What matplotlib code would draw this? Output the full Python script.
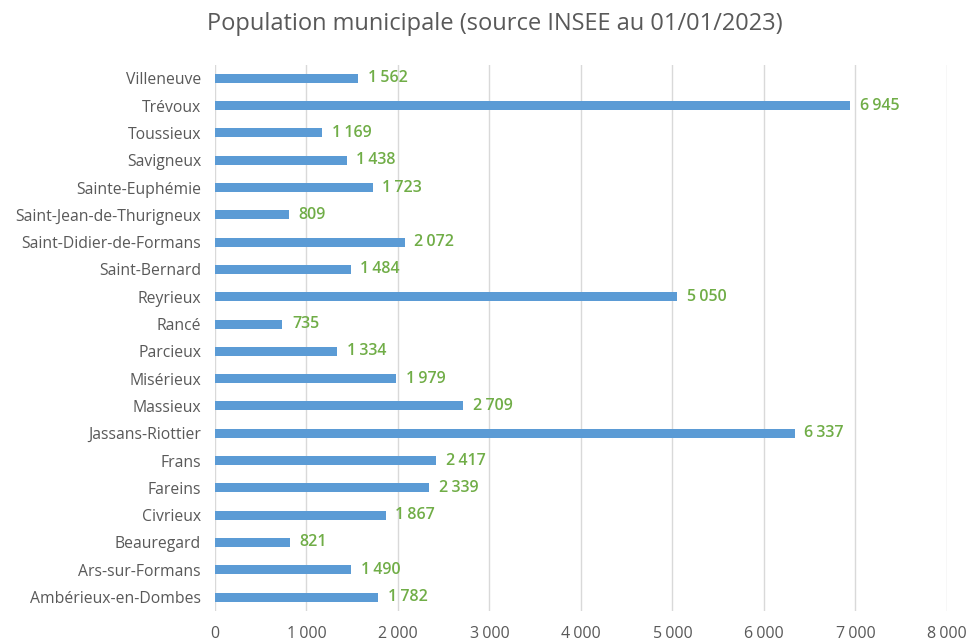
import matplotlib.pyplot as plt

communes = [
    "Villeneuve", "Trévoux", "Toussieux", "Savigneux", "Sainte-Euphémie",
    "Saint-Jean-de-Thurigneux", "Saint-Didier-de-Formans", "Saint-Bernard",
    "Reyrieux", "Rancé", "Parcieux", "Misérieux", "Massieux", "Jassans-Riottier",
    "Frans", "Fareins", "Civrieux", "Beauregard", "Ars-sur-Formans",
    "Ambérieux-en-Dombes",
]
population = [
    1562, 6945, 1169, 1438, 1723, 809, 2072, 1484, 5050, 735,
    1334, 1979, 2709, 6337, 2417, 2339, 1867, 821, 1490, 1782,
]
x_ticks = [0, 1000, 2000, 3000, 4000, 5000, 6000, 7000, 8000]


def fmt(v):
    return f"{v:,}".replace(",", "\u202f")


plt.rcParams["font.family"] = ["Open Sans", "DejaVu Sans"]

fig = plt.figure(figsize=(9.7, 6.44), dpi=100)
ax = fig.add_axes([0.2216, 0.0517, 0.7546, 0.8478])

y = list(range(len(communes)))[::-1]
ax.barh(y, population, height=0.33, color="#5B9BD5", zorder=3)
for yi, v in zip(y, population):
    ax.annotate(fmt(v), (v, yi), xytext=(7, 0), textcoords="offset points",
                va="center", ha="left", fontsize=11.5, color="#70AD47",
                fontweight="semibold")

ax.set_xlim(0, 8000)
ax.set_ylim(-0.5, len(communes) - 0.5)
ax.set_yticks(y)
ax.set_yticklabels(communes, fontsize=11.3, color="#595959")
ax.set_xticks(x_ticks)
ax.set_xticklabels([fmt(t) for t in x_ticks], fontsize=11.5, color="#595959")
ax.tick_params(length=0)
ax.tick_params(axis="x", pad=11)
ax.tick_params(axis="y", pad=10)
ax.grid(axis="x", color="#D9D9D9", lw=1, zorder=0)
for s in ax.spines.values():
    s.set_visible(False)

fig.text(0.51, 0.962, "Population municipale (source INSEE au 01/01/2023)",
         ha="center", va="center", fontsize=17, color="#595959")

fig.savefig("out.png", dpi=100)
